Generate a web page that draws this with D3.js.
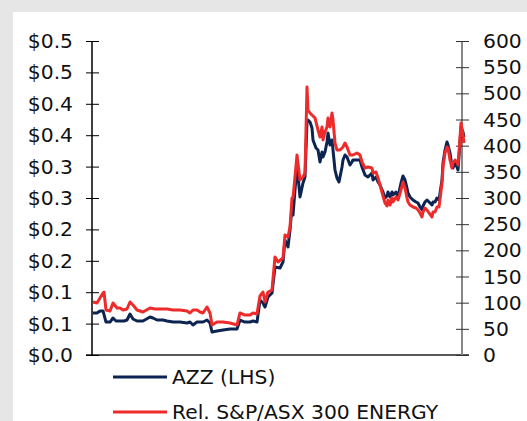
<!DOCTYPE html>
<html>
<head>
<meta charset="utf-8">
<script src="https://cdn.jsdelivr.net/npm/d3@7"></script>
<style>
  html, body { margin: 0; padding: 0; background: #e6e6e6; }
  svg { display: block; }
  text { font-family: "DejaVu Sans", Verdana, sans-serif; }
</style>
</head>
<body>
<svg id="chart" width="527" height="421"></svg>
<script>
// ---- data (weeks since start of series) ----
const azzPeriod = [0,4,7,10,13,17,20,23,27,31,34,37,40,44,50,57,60,64,70,74,80,87,94,97,100,104,110,114,117,119,124,130,137,144,147,152,157,160,164,167,170,172,175,179,182,187,190,192,195,197,199,200,202,204,207,210,212,214,215,217,219,220,223,225,227,229,230,232,234,235,237,239,240,242,244,246,249,250,252,254,257,259,260,264,267,269,272,275,279,280,283,285,287,290,292,294,295,297,299,300,303,305,308,310,312,314,315,317,320,323,325,327,329,330,332,334,336,339,340,342,344,346,349,350,352,354,355,357,359,360,362,364,365,366,368,370,371];
const azzPrice = [0.0669,0.0669,0.0701,0.0701,0.0525,0.0525,0.0589,0.0541,0.0541,0.0541,0.0557,0.0653,0.0573,0.0541,0.0541,0.0605,0.0589,0.0557,0.0557,0.0541,0.0525,0.0525,0.0510,0.0525,0.0478,0.0525,0.0525,0.0557,0.0510,0.0366,0.0382,0.0398,0.0414,0.0414,0.0557,0.0525,0.0525,0.0541,0.0525,0.0876,0.0828,0.0764,0.0924,0.0987,0.1401,0.1385,0.1481,0.1831,0.1720,0.1990,0.2357,0.2229,0.2627,0.3025,0.2516,0.2739,0.2834,0.3710,0.3742,0.3710,0.3615,0.3424,0.3296,0.3264,0.3073,0.3232,0.3153,0.3232,0.3392,0.3535,0.3344,0.3424,0.3264,0.2946,0.2818,0.2755,0.2994,0.3105,0.3185,0.3153,0.3025,0.3073,0.3105,0.3105,0.3105,0.2994,0.2866,0.2834,0.2898,0.2787,0.2834,0.2755,0.2707,0.2596,0.2500,0.2532,0.2596,0.2516,0.2596,0.2548,0.2596,0.2516,0.2739,0.2850,0.2787,0.2659,0.2580,0.2516,0.2468,0.2436,0.2420,0.2357,0.2309,0.2373,0.2436,0.2468,0.2436,0.2389,0.2436,0.2436,0.2500,0.2468,0.2787,0.3057,0.3264,0.3392,0.3344,0.3217,0.2994,0.2978,0.3057,0.2994,0.2946,0.3153,0.3631,0.3551,0.3471];

const relPeriod = [0,4,7,10,11,13,17,20,24,27,30,34,37,40,44,50,57,62,67,74,80,87,94,97,100,104,107,110,114,117,119,124,130,137,144,147,152,157,160,164,167,170,172,175,179,182,185,190,192,195,197,199,200,202,204,207,210,212,214,215,217,219,222,225,227,229,230,232,234,235,237,239,240,242,244,247,250,252,254,257,260,264,267,269,272,275,279,280,283,285,287,290,292,294,295,297,299,300,303,305,308,310,312,314,315,317,320,323,325,327,329,330,332,334,336,339,340,342,344,346,349,350,352,354,355,357,359,360,362,364,365,366,368,370,371];
const relIndex = [101.3,99.4,108.9,118.5,120.4,86.0,84.1,99.4,89.8,89.8,86.0,87.9,101.3,95.5,86.0,82.2,89.8,87.9,87.9,87.9,86.0,86.0,84.1,80.3,86.0,86.0,82.2,80.3,91.7,80.3,57.3,63.1,63.1,61.2,57.3,80.3,76.4,76.4,80.3,78.3,112.7,120.4,101.3,120.4,124.2,187.3,177.7,185.4,229.3,225.5,244.6,300.0,300.0,340.1,382.2,334.4,340.1,347.8,512.1,468.2,462.4,458.6,452.9,430.0,416.6,435.7,410.9,426.1,435.7,452.9,435.7,462.4,449.1,405.1,391.7,391.7,397.5,405.1,397.5,382.2,382.2,386.0,382.2,368.8,357.3,359.3,357.3,347.8,349.7,338.2,324.9,303.8,290.5,284.7,296.2,286.6,300.0,292.4,301.9,296.2,315.3,330.6,319.1,300.0,292.4,286.6,282.8,280.9,277.1,271.4,263.7,273.3,280.9,277.1,271.4,263.7,273.3,273.3,282.8,282.8,328.7,359.3,386.0,397.5,395.6,372.6,357.3,366.9,372.6,368.8,363.1,387.9,443.3,420.4,405.1];

const leftTicks = [0,0.05,0.1,0.15,0.2,0.25,0.3,0.35,0.4,0.45,0.5];
const leftTickLabels = ["$0.0","$0.1","$0.1","$0.2","$0.2","$0.3","$0.3","$0.4","$0.4","$0.5","$0.5"];
const rightTicks = [0,50,100,150,200,250,300,350,400,450,500,550,600];
const seriesNames = ["AZZ (LHS)", "Rel. S&P/ASX 300 ENERGY"];
const seriesColors = ["#0c2452", "#ee2b2b"];

// ---- layout ----
const svg = d3.select("#chart");
svg.append("rect").attr("x", 13).attr("y", 12).attr("width", 527 - 13).attr("height", 421 - 12).attr("fill", "#ffffff");

const x = d3.scaleLinear().domain([0, 371]).range([93, 464]);
const yL = d3.scaleLinear().domain([0, 0.5]).range([355, 41]);
const yR = d3.scaleLinear().domain([0, 600]).range([355, 41]);

// bottom axis line
svg.append("line").attr("x1", 86).attr("x2", 469).attr("y1", yL(0)).attr("y2", yL(0))
  .attr("stroke", "#222").attr("stroke-width", 1.5);

// left axis
const gL = svg.append("g").attr("transform", "translate(92,0)")
  .call(d3.axisLeft(yL).tickValues(leftTicks).tickFormat((d, i) => leftTickLabels[i]).tickSize(6).tickPadding(13));
gL.select(".domain").attr("stroke", "#000").attr("stroke-width", 1.5).attr("d", `M0,${yL(0)}V${yL(0.5)}`);
gL.selectAll(".tick line").attr("x1", -6).attr("x2", 7).attr("stroke", "#000");
gL.selectAll(".tick text").attr("font-size", 20.3).attr("fill", "#111").attr("font-family", "DejaVu Sans, Verdana, sans-serif");

// right axis
const gR = svg.append("g").attr("transform", "translate(462,0)")
  .call(d3.axisRight(yR).tickValues(rightTicks).tickFormat(d3.format("d")).tickSize(7).tickPadding(14));
gR.select(".domain").attr("stroke", "#888").attr("stroke-width", 2).attr("d", `M0,${yR(0)}V${yR(600)}`);
gR.selectAll(".tick line").attr("x1", -6).attr("x2", 7).attr("stroke", "#333");
gR.selectAll(".tick text").attr("font-size", 20.3).attr("fill", "#111").attr("font-family", "DejaVu Sans, Verdana, sans-serif");

// lines
const azzData = azzPeriod.map((p, i) => [p, azzPrice[i]]);
const relData = relPeriod.map((p, i) => [p, relIndex[i]]);

svg.append("path").datum(azzData)
  .attr("fill", "none").attr("stroke", seriesColors[0]).attr("stroke-width", 3).attr("stroke-linejoin", "round")
  .attr("d", d3.line().x(d => x(d[0])).y(d => yL(d[1])));
svg.append("path").datum(relData)
  .attr("fill", "none").attr("stroke", seriesColors[1]).attr("stroke-width", 3).attr("stroke-linejoin", "round")
  .attr("d", d3.line().x(d => x(d[0])).y(d => yR(d[1])));

// legend
const legendY = [377, 412];
seriesNames.forEach((name, i) => {
  svg.append("line").attr("x1", 113).attr("x2", 167).attr("y1", legendY[i]).attr("y2", legendY[i])
    .attr("stroke", seriesColors[i]).attr("stroke-width", 3);
  svg.append("text").attr("x", 172).attr("y", legendY[i] + 7).attr("font-size", 20.3).attr("fill", "#111").text(name);
});
</script>
</body>
</html>
